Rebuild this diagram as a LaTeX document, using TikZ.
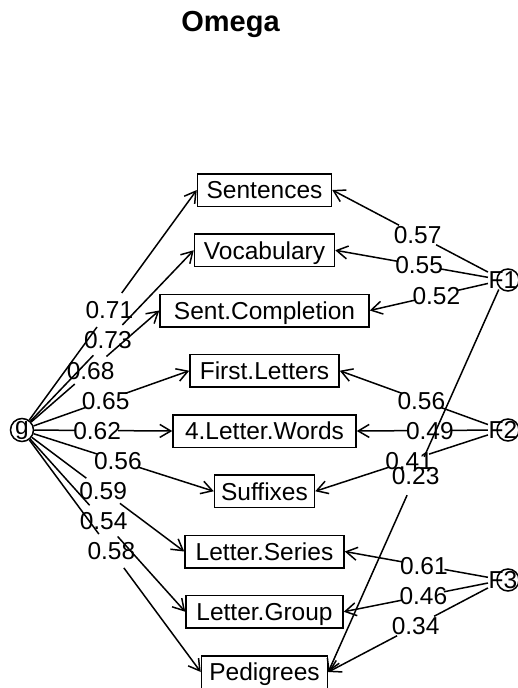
\documentclass[tikz,border=0pt]{standalone}
\usepackage{fontspec}
\setmainfont{Liberation Sans}
\usepackage{tikz}
\usetikzlibrary{arrows.meta,calc}

\begin{document}
\begin{tikzpicture}[x=1pt, y=-1pt, line width=1.5pt,
	font=\fontsize{24.5}{29}\selectfont,
	var/.style={draw, minimum width=#1, minimum height=32.5pt, inner xsep=1pt, text height=17.5pt, text depth=0pt},
	ld/.style={inner sep=0pt, text height=17.5pt, text depth=0pt},
	tolab/.style={shorten >=21pt},
	fromlab/.style={-{Straight Barb[length=11pt,width=13pt]}, shorten <=21pt}]
	\useasboundingbox (0,0) rectangle (517,688);
	\node[font=\fontsize{29}{34}\selectfont\bfseries, inner sep=0pt, text height=20.8pt, text depth=0pt] (title) at (230.5,21.5) {Omega};

	% tests
	\node[var=134] (Sen) at (264.5,190) {Sentences};
	\node[var=140] (Voc) at (264.5,250.25) {Vocabulary};
	\node[var=209] (SeC) at (264.5,310.5) {Sent.Completion};
	\node[var=149] (FiL) at (264.5,370.75) {First.Letters};
	\node[var=183] (LeW) at (264.5,431) {4.Letter.Words};
	\node[var=100] (Suf) at (264.5,491.25) {Suffixes};
	\node[var=159] (LeS) at (264.5,551.5) {Letter.Series};
	\node[var=157] (LeG) at (264.5,611.75) {Letter.Group};
	\node[var=126] (Ped) at (264.5,672) {Pedigrees};

	% factors
	\node[circle, draw, minimum size=23pt, inner sep=0pt] (g) at (22,430) {g};
	\node[ld] (F1) at (503,280) {F1};
	\node[ld] (F2) at (503,430) {F2};
	\node[ld] (F3) at (503,580) {F3};
	\draw ([xshift=5pt]F1.center) circle (11pt);
	\draw ([xshift=5pt]F2.center) circle (11pt);
	\draw ([xshift=5pt]F3.center) circle (11pt);

	% general factor
	\node[ld] (g1) at ($(g)!.5!(Sen.west)$) {0.71};
	\draw[tolab] (g) -- (g1.center); \draw[fromlab] (g1.center) -- (Sen.west);
	\node[ld] (g2) at ($(g)!.5!(Voc.west)$) {0.73};
	\draw[tolab] (g) -- (g2.center); \draw[fromlab] (g2.center) -- (Voc.west);
	\node[ld] (g3) at ($(g)!.5!(SeC.west)$) {0.68};
	\draw[tolab] (g) -- (g3.center); \draw[fromlab] (g3.center) -- (SeC.west);
	\node[ld] (g4) at ($(g)!.5!(FiL.west)$) {0.65};
	\draw[tolab] (g) -- (g4.center); \draw[fromlab] (g4.center) -- (FiL.west);
	\node[ld] (g5) at ($(g)!.5!(LeW.west)$) {0.62};
	\draw[tolab] (g) -- (g5.center); \draw[fromlab] (g5.center) -- (LeW.west);
	\node[ld] (g6) at ($(g)!.5!(Suf.west)$) {0.56};
	\draw[tolab] (g) -- (g6.center); \draw[fromlab] (g6.center) -- (Suf.west);
	\node[ld] (g7) at ($(g)!.5!(LeS.west)$) {0.59};
	\draw[tolab] (g) -- (g7.center); \draw[fromlab] (g7.center) -- (LeS.west);
	\node[ld] (g8) at ($(g)!.5!(LeG.west)$) {0.54};
	\draw[tolab] (g) -- (g8.center); \draw[fromlab] (g8.center) -- (LeG.west);
	\node[ld] (g9) at ($(g)!.5!(Ped.west)$) {0.58};
	\draw[tolab] (g) -- (g9.center); \draw[fromlab] (g9.center) -- (Ped.west);

	% group factors
	\node[ld] (a1) at ($(F1)!.5!(Sen.east)$) {0.57};
	\draw[tolab] (F1) -- (a1.center); \draw[fromlab] (a1.center) -- (Sen.east);
	\node[ld] (a2) at ($(F1)!.5!(Voc.east)$) {0.55};
	\draw[tolab] (F1) -- (a2.center); \draw[fromlab] (a2.center) -- (Voc.east);
	\node[ld] (a3) at ($(F1)!.5!(SeC.east)$) {0.52};
	\draw[tolab] (F1) -- (a3.center); \draw[fromlab] (a3.center) -- (SeC.east);
	\node[ld] (a4) at ($(F1)!.5!(Ped.east)$) {0.23};
	\draw[tolab] (F1) -- (a4.center); \draw[fromlab] (a4.center) -- (Ped.east);

	\node[ld] (b1) at ($(F2)!.5!(FiL.east)$) {0.56};
	\draw[tolab] (F2) -- (b1.center); \draw[fromlab] (b1.center) -- (FiL.east);
	\node[ld] (b2) at ($(F2)!.5!(LeW.east)$) {0.49};
	\draw[tolab] (F2) -- (b2.center); \draw[fromlab] (b2.center) -- (LeW.east);
	\node[ld] (b3) at ($(F2)!.5!(Suf.east)$) {0.41};
	\draw[tolab] (F2) -- (b3.center); \draw[fromlab] (b3.center) -- (Suf.east);

	\node[ld] (c1) at ($(F3)!.5!(LeS.east)$) {0.61};
	\draw[tolab] (F3) -- (c1.center); \draw[fromlab] (c1.center) -- (LeS.east);
	\node[ld] (c2) at ($(F3)!.5!(LeG.east)$) {0.46};
	\draw[tolab] (F3) -- (c2.center); \draw[fromlab] (c2.center) -- (LeG.east);
	\node[ld] (c3) at ($(F3)!.5!(Ped.east)$) {0.34};
	\draw[tolab] (F3) -- (c3.center); \draw[fromlab] (c3.center) -- (Ped.east);
\end{tikzpicture}
\end{document}
